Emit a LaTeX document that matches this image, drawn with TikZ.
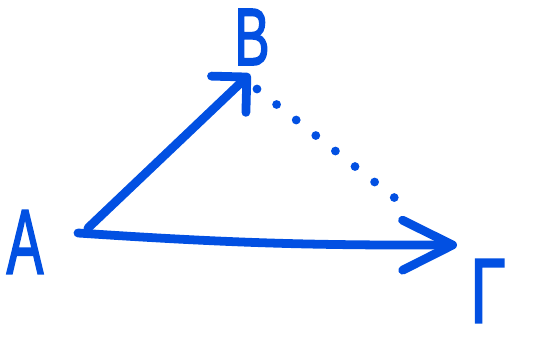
\documentclass[tikz,border=0pt]{standalone}
\usepackage{fontspec}
\setmainfont{Liberation Sans}
\newfontfamily\penfont{Liberation Sans}[FakeBold=2.5]
\usetikzlibrary{arrows.meta, calc}
\definecolor{penblue}{RGB}{2,80,226}

\begin{document}
\begin{tikzpicture}[
    x=0.02cm, y=-0.02cm,
    % Letter style
    letter/.style={
        text=penblue, font=\penfont\fontsize{52}{52}\selectfont,
        inner sep=0pt, anchor=center
    },
    % Pen strokes
    pen/.style={
        draw=penblue, line width=5pt, line cap=round, line join=round
    },
    smallhead/.style={
        -{Straight Barb[length=5mm, width=10mm, round]}
    },
    bighead/.style={
        -{Straight Barb[length=10mm, width=10mm, round]}
    },
    dotline/.style={
        dash pattern=on 0pt off 0.5cm
    },
]

% ===== FRAME =====
\useasboundingbox (0,0) rectangle (542,341);

% ===== VERTICES =====
\node[letter] (A) at (25,242) {\scalebox{0.6}[1]{A}};
\node[letter, font=\penfont\fontsize{46}{46}\selectfont] (B) at (252,37) {\scalebox{0.65}[1]{B}};
\node[letter] (G) at (488,291) {\scalebox{0.7}[1]{Γ}};

% ===== ARROWS =====
\draw[pen, smallhead] ([shift={(63,-14)}]A.center) -- ([shift={(-2,37)}]B.center);
\draw[pen, bighead] ([shift={(53,-9)}]A.center) to[bend right=2] ([shift={(-31,-46)}]G.center);

% ===== DOTTED SIDE =====
\draw[pen, dotline] ([shift={(5,52)}]B.center) -- ([shift={(-78,-81)}]G.center);

\end{tikzpicture}
\end{document}
